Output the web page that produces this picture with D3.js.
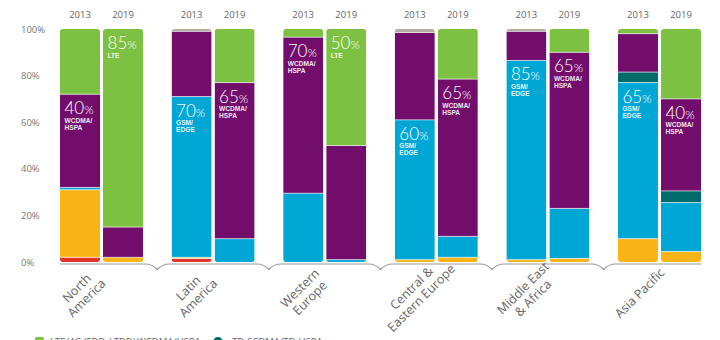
<!DOCTYPE html>
<html>
<head>
<meta charset="utf-8">
<script src="https://cdn.jsdelivr.net/npm/d3@7"></script>
<style>
  html, body { margin: 0; padding: 0; background: #fff; }
  svg { display: block; font-family: "Open Sans", Lato, sans-serif; }
</style>
</head>
<body>
<div id="chart"></div>
<script>
const regions = ["North America", "Latin America", "Western Europe", "Central & Eastern Europe", "Middle East & Africa", "Asia Pacific"];
const regionLines = [["North", "America"], ["Latin", "America"], ["Western", "Europe"], ["Central &", "Eastern Europe"], ["Middle East", "& Africa"], ["Asia Pacific"]];
const years = ["2013", "2019"];
const yTicks = [0, 20, 40, 60, 80, 100];

// series values, one per bar: NA13, NA19, LA13, LA19, WE13, WE19, CEE13, CEE19, MEA13, MEA19, AP13, AP19
const series = ["iDEN", "CDMA", "GSM/EDGE", "TD-SCDMA", "WCDMA/HSPA", "LTE", "Other"];
const iden    = [2, 0, 1.5, 0, 0, 0, 0, 0, 0, 0, 0, 0];
const cdma    = [29, 2, 0.5, 0, 0, 0, 1, 2, 1, 1.5, 10, 4.5];
const gsm     = [1, 0, 69, 10, 29.5, 1, 60, 9, 85.5, 21.5, 67, 21];
const tdscdma = [0, 0, 0, 0, 0, 0, 0, 0, 0, 0, 4.5, 5];
const wcdma   = [40, 13, 28, 67, 67, 49, 37.5, 67.5, 12.5, 67, 16.5, 39.5];
const lte     = [28, 85, 0, 23, 3.5, 50, 0, 21.5, 0, 10, 2, 30];
const other   = [0, 0, 1, 0, 0, 0, 1.5, 0, 1, 0, 0, 0];

const calloutSeries = ["WCDMA/HSPA", "LTE", "GSM/EDGE", "WCDMA/HSPA", "WCDMA/HSPA", "LTE", "GSM/EDGE", "WCDMA/HSPA", "GSM/EDGE", "WCDMA/HSPA", "GSM/EDGE", "WCDMA/HSPA"];
const calloutValue = [40, 85, 70, 65, 70, 50, 60, 65, 85, 65, 65, 40];

const legendLabels = ["LTE/4G (FDD / TDD)", "WCDMA/HSPA", "TD-SCDMA/TD-HSPA"];

const colors = {
  "iDEN": "#e2332a",
  "CDMA": "#fbb417",
  "GSM/EDGE": "#00a7d5",
  "TD-SCDMA": "#006b6b",
  "WCDMA/HSPA": "#730d6c",
  "LTE": "#7cc142",
  "Other": "#b5aca3"
};

const width = 720, height = 340;
const seriesValues = [iden, cdma, gsm, tdscdma, wcdma, lte, other];

// table for d3.stack, one row per bar
const rows = [];
regions.forEach((r, ri) => {
  years.forEach((yr, yi) => {
    const i = ri * years.length + yi;
    const row = { region: r, year: yr, idx: i };
    series.forEach((s, si) => { row[s] = seriesValues[si][i]; });
    rows.push(row);
  });
});

const stacked = d3.stack().keys(series)(rows);

const svg = d3.select("#chart").append("svg")
  .attr("width", width)
  .attr("height", height);

const x0 = d3.scaleBand().domain(regions).range([60, 701]).paddingInner(0.256).paddingOuter(0);
const x1 = d3.scaleBand().domain(years).range([0, x0.bandwidth()]).paddingInner(0.07);
const y = d3.scaleLinear().domain([0, 100]).range([262, 29]);

// y axis labels
const yAxis = svg.append("g")
  .attr("transform", "translate(21,0)")
  .call(d3.axisLeft(y).tickValues(yTicks).tickFormat(d => d + "%").tickSize(0));
yAxis.select(".domain").remove();
yAxis.selectAll("text")
  .attr("x", 0)
  .attr("text-anchor", "start")
  .attr("fill", "#777")
  .style("font-size", "9.5px")
  .style("font-family", "Open Sans, sans-serif");

const barX = d => x0(d.region) + x1(d.year);

// clip paths for rounded bars
const defs = svg.append("defs");
rows.forEach(d => {
  defs.append("clipPath").attr("id", "clip" + d.idx)
    .append("rect")
    .attr("x", barX(d))
    .attr("y", y(100))
    .attr("width", x1.bandwidth())
    .attr("height", y(0) - y(100))
    .attr("rx", 3);
});

const bars = svg.append("g");
stacked.forEach(layer => {
  bars.selectAll(null)
    .data(layer.filter(p => p[1] - p[0] > 0))
    .enter().append("rect")
    .attr("clip-path", p => `url(#clip${p.data.idx})`)
    .attr("x", p => barX(p.data))
    .attr("y", p => y(p[1]))
    .attr("width", x1.bandwidth())
    .attr("height", p => y(p[0]) - y(p[1]))
    .attr("fill", colors[layer.key]);
});

// thin light separators between segments
stacked.forEach(layer => {
  bars.selectAll(null)
    .data(layer.filter(p => p[1] - p[0] > 0 && p[0] > 0))
    .enter().append("line")
    .attr("x1", p => barX(p.data))
    .attr("x2", p => barX(p.data) + x1.bandwidth())
    .attr("y1", p => y(p[0]))
    .attr("y2", p => y(p[0]))
    .attr("stroke", "#ffffff")
    .attr("stroke-opacity", 0.7)
    .attr("stroke-width", 0.9);
});

// year labels
svg.append("g").selectAll("text")
  .data(rows)
  .enter().append("text")
  .attr("x", d => barX(d) + x1.bandwidth() / 2)
  .attr("y", 17.5)
  .attr("text-anchor", "middle")
  .attr("fill", "#666")
  .style("font-size", "9.5px")
  .text(d => d.year);

// callouts inside bars
rows.forEach(d => {
  const key = calloutSeries[d.idx];
  const layer = stacked.find(l => l.key === key);
  const seg = layer[d.idx];
  const top = y(seg[1]);
  const lx = barX(d) + 4.5;
  const t = svg.append("text")
    .attr("x", lx)
    .attr("y", top + 20)
    .attr("fill", "#fff")
    .style("font-family", "Lato, 'Open Sans', sans-serif")
    .style("font-weight", 300);
  t.append("tspan").style("font-size", "17px").text(calloutValue[d.idx]);
  t.append("tspan").style("font-size", "12px").text("%");
  const parts = key.includes("/") ? [key.split("/")[0] + "/", key.split("/")[1]] : [key];
  parts.forEach((p, i) => {
    svg.append("text")
      .attr("x", lx)
      .attr("y", top + 28.5 + i * 7)
      .attr("fill", "#fff")
      .attr("fill-opacity", 0.92)
      .style("font-size", "6.6px")
      .style("font-family", "'Liberation Sans', Arial, sans-serif")
      .style("font-weight", 700)
      .text(p);
  });
});

// baseline with brace notches between groups
const step = x0.step();
const notches = regions.slice(0, -1).map(r => x0(r) + x0.bandwidth() + (step - x0.bandwidth()) / 2);
let path = `M${x0.range()[0]},264`;
notches.forEach(n => {
  path += ` L${n - 12},264 Q${n - 5},264 ${n},269.5 Q${n + 5},264 ${n + 12},264`;
});
path += ` L${x0.range()[1]},264`;
svg.append("path")
  .attr("d", path)
  .attr("fill", "none")
  .attr("stroke", "#9a9a9a")
  .attr("stroke-width", 1.2);

// rotated region labels
regions.forEach((r, i) => {
  const cx = x0(r) + x0.bandwidth() / 2 - 20;
  const g = svg.append("g")
    .attr("transform", `translate(${cx},293) rotate(-45)`);
  const lines = regionLines[i];
  lines.forEach((ln, li) => {
    g.append("text")
      .attr("x", 0)
      .attr("y", (li - (lines.length - 1) / 2) * 14 + 4.5)
      .attr("text-anchor", "middle")
      .attr("fill", "#666")
      .style("font-size", "12.5px")
      .text(ln);
  });
});

// legend (mostly below the visible area)
const legend = svg.append("g");
legend.append("rect").attr("x", 35).attr("y", 337).attr("width", 9).attr("height", 9).attr("rx", 1.5).attr("fill", colors["LTE"]);
legend.append("text").attr("x", 50).attr("y", 345).attr("fill", "#666").style("font-size", "9.5px").text(legendLabels[0]);
legend.append("text").attr("x", 137).attr("y", 345).attr("fill", "#666").style("font-size", "9.5px").text(legendLabels[1]);
legend.append("circle").attr("cx", 218).attr("cy", 342).attr("r", 5).attr("fill", colors["TD-SCDMA"]);
legend.append("text").attr("x", 232).attr("y", 345).attr("fill", "#666").style("font-size", "9.5px").text(legendLabels[2]);
</script>
</body>
</html>
